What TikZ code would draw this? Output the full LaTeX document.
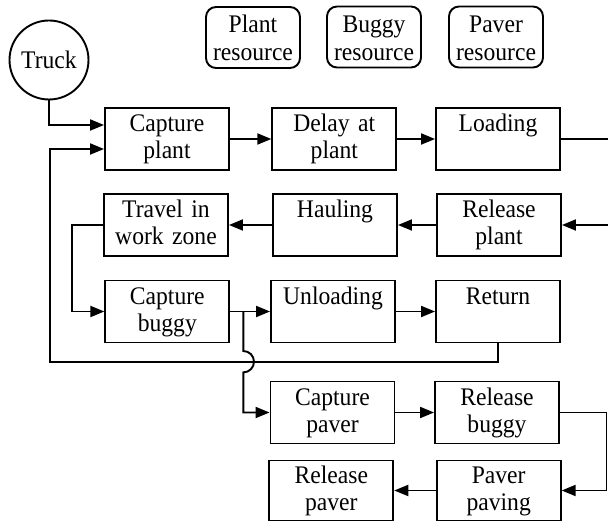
\documentclass[tikz,border=0pt]{standalone}
\usepackage{fontspec}
\setmainfont{Liberation Serif}[FakeStretch=0.933]
\usetikzlibrary{arrows.meta}
\begin{document}
\begin{tikzpicture}[x=1pt,y=1pt,
  every node/.style={font=\fontsize{25.3}{26.6}\selectfont},
  ln/.style={line width=1.9pt},
  proc/.style={draw, ln, minimum width=124pt, minimum height=62pt, inner sep=0pt, text width=122pt, align=center, text height=17pt, text depth=31pt},
  lastrow/.style={proc, minimum height=60pt},
  res/.style={draw, ln, rounded corners=10pt, minimum width=94pt, minimum height=61pt, inner sep=0pt, text width=92pt, align=center, text height=17pt, text depth=26pt, font=\fontsize{25.3}{27.7}\selectfont},
  arr/.style={ln, -{Triangle[length=14pt,width=11pt]}}]
\useasboundingbox (0,0) rectangle (608,522);
\node[circle, draw, ln, minimum size=79pt, inner sep=0pt] (truck) at (49,462) {Truck};
\node[res] (pr) at (253,484.5) {Plant\\resource};
\node[res] (br) at (374,485) {Buggy\\resource};
\node[res] (vr) at (496,485) {Paver\\resource};
\node[proc] (cp) at (167,383) {Capture\\plant};
\node[proc] (dp) at (334.3,383) {Delay at\\plant};
\node[proc] (ld) at (498,383) {Loading};
\node[proc] (tw) at (166,297) {Travel in\\work zone};
\node[proc] (hl) at (335,297) {Hauling};
\node[proc] (rp) at (499,297) {Release\\plant};
\node[proc] (cb) at (167.3,210.5) {Capture\\buggy};
\node[proc] (ul) at (333,210.5) {Unloading};
\node[proc] (rt) at (498,210.5) {Return};
\node[proc] (cv) at (332.5,109.5) {Capture\\paver};
\node[proc] (rb) at (497,109.5) {Release\\buggy};
\node[lastrow] (rv) at (331.3,31.5) {Release\\paver};
\node[lastrow] (pp) at (498.7,31.5) {Paver\\paving};
\coordinate (eL) at (609,383);
\coordinate (eR) at (609,297);
\coordinate (loopL) at (50,160.3);
\coordinate (j) at (243.3,210.5);
\coordinate (hopT) at (243.3,171);
\coordinate (eB) at (606.5,109.5);
\draw[arr] (truck.south) |- ([yshift=14pt]cp.west);
\draw[arr] (rt.south) |- (loopL) |- ([yshift=-10pt]cp.west);
\draw[arr] (cp) -- (dp);
\draw[arr] (dp) -- (ld);
\draw[ln] (ld.east) -- (eL);
\draw[arr] (eR) -- (rp.east);
\draw[arr] (rp) -- (hl);
\draw[arr] (hl) -- (tw);
\draw[arr] (tw.west) -- ++(-31,0) |- (cb.west);
\draw[arr] (cb) -- (ul);
\draw[arr] (ul) -- (rt);
\draw[ln] (cb.east) -- (j);
\draw[arr] (j) -- (hopT) arc[start angle=90, end angle=-90, radius=10.7] |- (cv.west);
\draw[arr] (cv) -- (rb);
\draw[arr] (rb.east) -- (eB) |- (pp.east);
\draw[arr] (pp) -- (rv);
\end{tikzpicture}
\end{document}
